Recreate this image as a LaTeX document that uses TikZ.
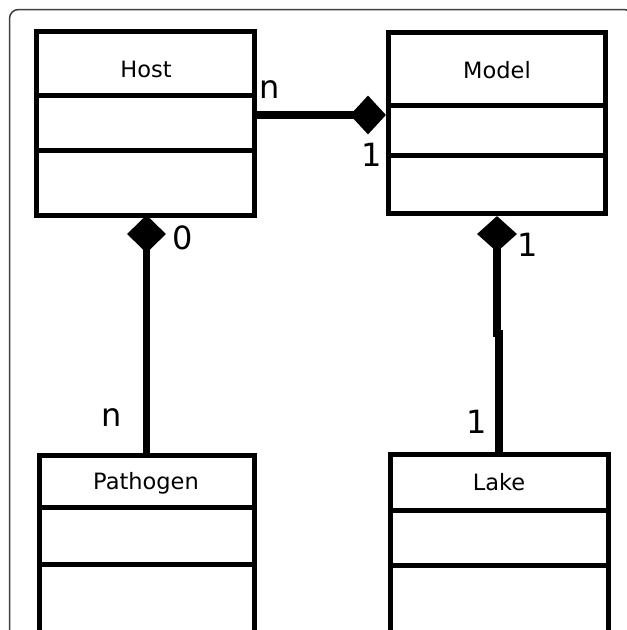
\documentclass[tikz,border=0pt]{standalone}
\usepackage{fontspec}
\setmainfont{DejaVu Sans}
\usetikzlibrary{shapes.geometric}

\tikzset{
  classbox/.style={draw, line width=5pt, inner sep=0pt, minimum width=218pt},
  classname/.style={font=\fontsize{22.5}{27}\selectfont},
  part/.style={line width=5pt},
  owner/.style={diamond, fill=black, draw=none, inner sep=0pt, aspect=1},
  assoc/.style={line width=7.5pt},
  mult/.style={font=\fontsize{32}{38}\selectfont, inner sep=0pt}
}

\begin{document}
\begin{tikzpicture}[x=1pt,y=-1pt]
\useasboundingbox (0,0) rectangle (627,630);
\clip (0,0) rectangle (627,630);
\draw[black!75, line width=1.5pt, rounded corners=9pt] (9.5,9.5) rectangle (633,700);

% classes
\node[classbox, minimum height=183.5pt] (host) at (145,123.25) {};
\node[classbox, minimum height=180.5pt, minimum width=217.5pt] (model) at (496.75,122.75) {};
\node[classbox, minimum height=250pt, minimum width=215pt] (pathogen) at (146.5,580) {};
\node[classbox, minimum height=250pt] (lake) at (499,579) {};

\node[classname] (hostname) at (146,69) {Host};
\node[classname] (modelname) at (497,70) {Model};
\node[classname] (pathogenname) at (146,483) {Pathogen};
\node[classname] (lakename) at (499,482) {Lake};

\draw[part] (host.west |- 0,95) -- (host.east |- 0,95);
\draw[part] (host.west |- 0,150) -- (host.east |- 0,150);
\draw[part] (model.west |- 0,105) -- (model.east |- 0,105);
\draw[part] (model.west |- 0,155) -- (model.east |- 0,155);
\draw[part] (pathogen.west |- 0,507) -- (pathogen.east |- 0,507);
\draw[part] (pathogen.west |- 0,564) -- (pathogen.east |- 0,564);
\draw[part] (lake.west |- 0,510) -- (lake.east |- 0,510);
\draw[part] (lake.west |- 0,565) -- (lake.east |- 0,565);

% compositions
\node[owner, minimum width=36pt, minimum height=39pt] (hostmodel) at (368,115) {};
\node[owner, minimum width=39pt, minimum height=38pt] (hostpathogen) at (146.5,234) {};
\node[owner, minimum width=40pt, minimum height=36pt] (modellake) at (497,234) {};

\draw[assoc] (host.east |- hostmodel) -- (hostmodel.center);
\draw[assoc] (hostpathogen.center) -- (hostpathogen.center |- pathogen.north);
\coordinate (lakejoin1) at (497,337);
\coordinate (lakejoin2) at (499,330);
\draw[assoc] (modellake.center) -- (lakejoin1);
\draw[assoc] (lakejoin2) -- (lakejoin2 |- lake.north);

% multiplicities
\node[mult] (multhost) at (270,90) {n};
\node[mult] (multmodel) at (372,155) {1};
\node[mult] (multhostp) at (183,238) {0};
\node[mult] (multpathogen) at (112,418) {n};
\node[mult] (multmodell) at (528,245) {1};
\node[mult] (multlake) at (477,422) {1};
\end{tikzpicture}
\end{document}
